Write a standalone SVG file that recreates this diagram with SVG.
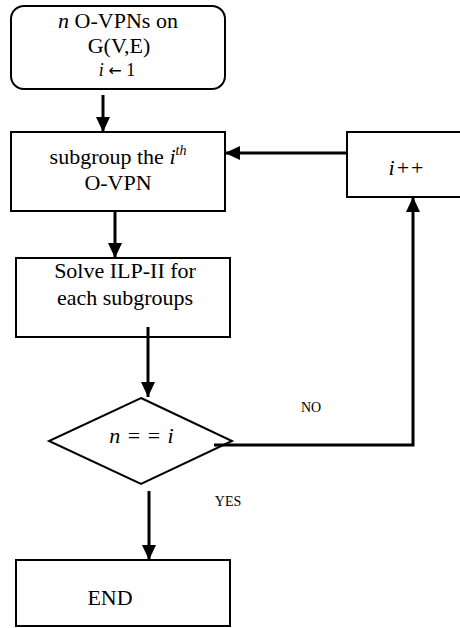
<svg xmlns="http://www.w3.org/2000/svg" width="460" height="628" viewBox="0 0 460 628">
  <style>
    .box { fill: #fff; stroke: #000; stroke-width: 2; }
    .lbl { font-family: "Liberation Serif", "Times New Roman", serif; font-size: 22px; fill: #000; text-anchor: middle; }
    .small { font-family: "Liberation Serif", "Times New Roman", serif; font-size: 14px; fill: #000; text-anchor: middle; }
    .it { font-style: italic; }
    .link { fill: none; stroke: #000; stroke-width: 3; }
  </style>
  <defs>
    <marker id="arrow" viewBox="0 0 15 14" refX="15" refY="7" markerWidth="15" markerHeight="14" markerUnits="userSpaceOnUse" orient="auto">
      <path d="M0,0 L15,7 L0,14 z" fill="#000"/>
    </marker>
  </defs>
  <rect width="460" height="628" fill="#fff"/>

  <g id="start">
    <rect class="box" x="11" y="6" width="214" height="83" rx="13"/>
    <text class="lbl" x="118" y="28"><tspan class="it">n</tspan> O-VPNs on</text>
    <text class="lbl" x="119" y="53">G(V,E)</text>
    <text class="lbl" x="117" y="76" style="font-size:18px"><tspan class="it">i</tspan> <tspan font-family="DejaVu Sans" font-size="16">←</tspan> 1</text>
  </g>

  <g id="subgroup">
    <rect class="box" x="11" y="132" width="214" height="79"/>
    <text class="lbl" x="118" y="164">subgroup the <tspan class="it">i</tspan><tspan class="it" font-size="14" dy="-9">th</tspan></text>
    <text class="lbl" x="118" y="190">O-VPN</text>
  </g>

  <g id="solve">
    <rect class="box" x="16" y="258" width="214" height="79"/>
    <text class="lbl" x="125" y="278">Solve ILP-II for</text>
    <text class="lbl" x="125" y="305">each subgroups</text>
  </g>

  <g id="increment">
    <rect class="box" x="347" y="132" width="122" height="65"/>
    <text class="lbl" x="407" y="175" letter-spacing="2"><tspan class="it">i</tspan>++</text>
  </g>

  <g id="check">
    <polygon class="box" points="141,398 232,441 141,484 49,441"/>
    <text class="lbl" x="142" y="443" letter-spacing="1"><tspan class="it">n</tspan> = = <tspan class="it">i</tspan></text>
  </g>

  <g id="end">
    <rect class="box" x="16" y="560" width="214" height="66"/>
    <text class="lbl" x="110" y="605">END</text>
  </g>

  <g id="connectors">
    <line class="link" x1="103" y1="95" x2="103" y2="132" marker-end="url(#arrow)"/>
    <line class="link" x1="115" y1="211" x2="115" y2="258" marker-end="url(#arrow)"/>
    <line class="link" x1="148" y1="327" x2="148" y2="397" marker-end="url(#arrow)"/>
    <line class="link" x1="149" y1="491" x2="149" y2="560" marker-end="url(#arrow)"/>
    <polyline class="link" points="214,445 413,445 413,197" marker-end="url(#arrow)"/>
    <line class="link" x1="347" y1="153" x2="225" y2="153" marker-end="url(#arrow)"/>
    <text class="small" x="311" y="412">NO</text>
    <text class="small" x="228" y="506">YES</text>
  </g>
</svg>
